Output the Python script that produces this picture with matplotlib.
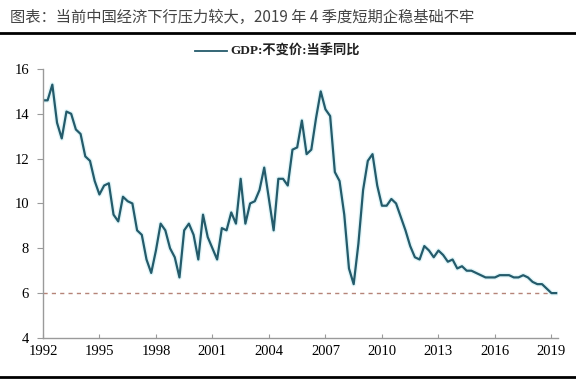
import matplotlib
matplotlib.use("Agg")
import matplotlib.pyplot as plt
import matplotlib.patheffects as pe
from matplotlib.lines import Line2D
import numpy as np

# GDP:不变价:当季同比, quarterly, from 1992Q3 to 2019Q4
gdp = [
    14.6, 14.6, 15.3, 13.6, 12.9, 14.1, 14.0, 13.3, 13.1, 12.1,
    11.9, 11.0, 10.4, 10.8, 10.9, 9.5, 9.2, 10.3, 10.1, 10.0,
    8.8, 8.6, 7.5, 6.9, 7.9, 9.1, 8.8, 8.0, 7.6, 6.7,
    8.8, 9.1, 8.6, 7.5, 9.5, 8.5, 8.0, 7.5, 8.9, 8.8,
    9.6, 9.1, 11.1, 9.1, 10.0, 10.1, 10.6, 11.6, 10.2, 8.8,
    11.1, 11.1, 10.8, 12.4, 12.5, 13.7, 12.2, 12.4, 13.8, 15.0,
    14.2, 13.9, 11.4, 11.0, 9.5, 7.1, 6.4, 8.2, 10.6, 11.9,
    12.2, 10.8, 9.9, 9.9, 10.2, 10.0, 9.4, 8.8, 8.1, 7.6,
    7.5, 8.1, 7.9, 7.6, 7.9, 7.7, 7.4, 7.5, 7.1, 7.2,
    7.0, 7.0, 6.9, 6.8, 6.7, 6.7, 6.7, 6.8, 6.8, 6.8,
    6.7, 6.7, 6.8, 6.7, 6.5, 6.4, 6.4, 6.2, 6.0, 6.0,
]
year_labels = ["1992", "1995", "1998", "2001", "2004", "2007", "2010", "2013", "2016", "2019"]
ref_level = 6
y_ticks = [4, 6, 8, 10, 12, 14, 16]

title = "图表：当前中国经济下行压力较大，2019 年 4 季度短期企稳基础不牢"
series_name = "GDP:不变价:当季同比"

cjk = ["Noto Sans CJK SC", "DejaVu Sans"]
serif = ["Liberation Serif", "Noto Sans CJK SC"]

fig = plt.figure(figsize=(5.76, 3.81), dpi=100)
ax = fig.add_axes([0.0745, 0.113, 0.8935, 0.706])

x = np.arange(len(gdp))
ax.plot(x, gdp, color="#245b6b", linewidth=1.6, solid_joinstyle="round",
        path_effects=[pe.Stroke(linewidth=3.5, foreground="#e2f6f9"), pe.Normal()])
ax.axhline(ref_level, color="#b58478", linestyle=(0, (3, 3)), linewidth=1.0, zorder=1)

ax.set_xlim(0, len(gdp) - 0.7)
ax.set_ylim(4, 16)
ax.set_xticks(x[::12])
ax.set_xticklabels(year_labels, family=serif, fontsize=10.5)
ax.set_yticks(y_ticks)
ax.set_yticklabels([str(t) for t in y_ticks], family=serif, fontsize=10.5)

for s in ["top", "right"]:
    ax.spines[s].set_visible(False)
for s in ["left", "bottom"]:
    ax.spines[s].set_color("#9a9a9a")
    ax.spines[s].set_linewidth(1.0)
ax.tick_params(axis="y", direction="out", length=4, color="#9a9a9a", pad=6)
ax.tick_params(axis="x", direction="in", length=3, color="#9a9a9a", pad=5)

# legend at the top
fig.add_artist(Line2D([195 / 576, 227 / 576], [1 - 51 / 381, 1 - 51 / 381],
                      color="#245b6b", linewidth=1.3))
fig.text(230 / 576, 1 - 51 / 381, series_name, family=serif, fontsize=9.5,
         fontweight="bold", va="center", ha="left", color="#222222")

# title and rules
fig.text(10 / 576, 1 - 17 / 381, title, family=cjk, fontsize=11, color="#444444",
         va="center", ha="left", fontweight="light")
fig.add_artist(Line2D([0, 1], [1 - 33 / 381, 1 - 33 / 381], color="black", linewidth=2))
fig.add_artist(Line2D([0, 1], [1 - 377 / 381, 1 - 377 / 381], color="black", linewidth=2))

fig.savefig("out.png", dpi=100)
